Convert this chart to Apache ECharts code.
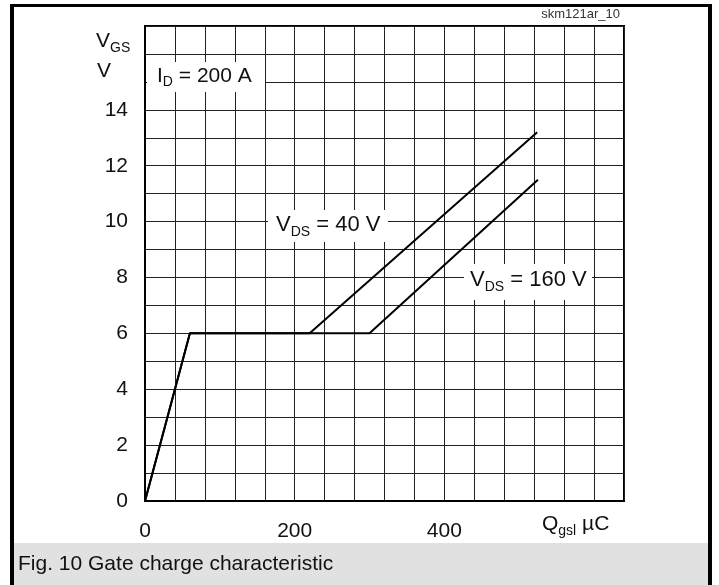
<!DOCTYPE html>
<html><head><meta charset="utf-8">
<script src="https://cdn.jsdelivr.net/npm/echarts@6/dist/echarts.min.js"></script>
<style>html,body{margin:0;padding:0;background:#fff}#c{width:719px;height:585px}</style>
</head><body><div id="c"></div>
<script>
// ---- data ----
const xTickLabels = [0, 200, 400];
const yTickLabels = [0, 2, 4, 6, 8, 10, 12, 14];
const qgslVds40 = [0, 60, 220, 524];
const vgsVds40  = [0, 6, 6, 13.2];
const qgslVds160 = [0, 60, 300, 525];
const vgsVds160  = [0, 6, 6, 11.5];

const FONT = '"Liberation Sans", Arial, Helvetica, sans-serif';
const chart = echarts.init(document.getElementById('c'), null, {renderer: 'canvas'});

const mctx = document.createElement('canvas').getContext('2d');
function tw(t, size) { mctx.font = size + 'px ' + FONT; return mctx.measureText(t).width; }
// build text pieces with subscripts: parts = [[text,size,dy]]
function subText(x, y, parts, z) {
  const els = [];
  let cx = x;
  for (const [t, size, dy] of parts) {
    els.push({type: 'text', x: cx, y: y + dy, z: z || 100,
      style: {text: t, fontSize: size, fontFamily: FONT, fill: '#111', align: 'left', verticalAlign: 'middle'}});
    cx += tw(t, size);
  }
  return els;
}
function box(x, y, w, h) {
  return {type: 'rect', z: 90, shape: {x, y, width: w, height: h}, style: {fill: '#fff'}};
}

const axisFont = {fontSize: 21, fontFamily: FONT, color: '#111'};
const graphics = [
  // outer frame
  {type: 'rect', z: 120, shape: {x: 10, y: 4, width: 4, height: 581}, style: {fill: '#000'}},
  {type: 'rect', z: 120, shape: {x: 10, y: 4, width: 702, height: 3}, style: {fill: '#000'}},
  {type: 'rect', z: 120, shape: {x: 708, y: 4, width: 4, height: 581}, style: {fill: '#000'}},
  // caption band
  {type: 'rect', z: 100, shape: {x: 14, y: 543, width: 694, height: 42}, style: {fill: '#e1e1e1'}},
  {type: 'text', z: 110, x: 18, y: 564, style: {text: 'Fig. 10 Gate charge characteristic', fontSize: 21, fontFamily: FONT, fill: '#111', verticalAlign: 'middle'}},
  {type: 'text', z: 110, x: 620, y: 14, style: {text: 'skm121ar_10', fontSize: 13, fontFamily: FONT, fill: '#333', align: 'right', verticalAlign: 'middle'}},
  box(147, 62, 118, 30),
  box(268, 210, 120, 32),
  box(464, 264, 128, 36),
];
graphics.push(...subText(96, 41, [['V', 21, 0], ['GS', 14, 7]]));
graphics.push(...subText(97, 71, [['V', 21, 0]]));
graphics.push(...subText(157, 76, [['I', 21, 0], ['D', 14, 6], [' = 200 A', 21, 0]]));
graphics.push(...subText(276, 225, [['V', 22, 0], ['DS', 14, 7], [' = 40 V', 22, 0]]));
graphics.push(...subText(470, 280, [['V', 22, 0], ['DS', 14, 7], [' = 160 V', 22, 0]]));
graphics.push(...subText(542, 524, [['Q', 21, 0], ['gsl', 14, 7], [' \u00b5C', 21, 0]]));

chart.setOption({
  animation: false,
  backgroundColor: '#fff',
  grid: {left: 145, right: 95, top: 26, bottom: 84, show: true, borderColor: '#000', borderWidth: 2, backgroundColor: 'transparent'},
  xAxis: {
    type: 'value', min: 0, max: 640, interval: 40,
    axisLine: {show: true, lineStyle: {color: '#000', width: 2}},
    axisTick: {show: false},
    splitLine: {show: true, lineStyle: {color: '#222', width: 1}},
    axisLabel: Object.assign({margin: 20, formatter: v => xTickLabels.includes(v) ? String(v) : ''}, axisFont)
  },
  yAxis: {
    type: 'value', min: 0, max: 17, interval: 1,
    axisLine: {show: true, lineStyle: {color: '#000', width: 2}},
    axisTick: {show: false},
    splitLine: {show: true, lineStyle: {color: '#222', width: 1}},
    axisLabel: Object.assign({margin: 17, formatter: v => yTickLabels.includes(v) ? String(v) : ''}, axisFont)
  },
  series: [
    {name: 'VDS = 40 V', type: 'line', symbol: 'none', z: 5, silent: true,
     lineStyle: {color: '#000', width: 2},
     data: qgslVds40.map((q, i) => [q, vgsVds40[i]])},
    {name: 'VDS = 160 V', type: 'line', symbol: 'none', z: 5, silent: true,
     lineStyle: {color: '#000', width: 2},
     data: qgslVds160.map((q, i) => [q, vgsVds160[i]])}
  ],
  graphic: graphics
});
</script></body></html>
